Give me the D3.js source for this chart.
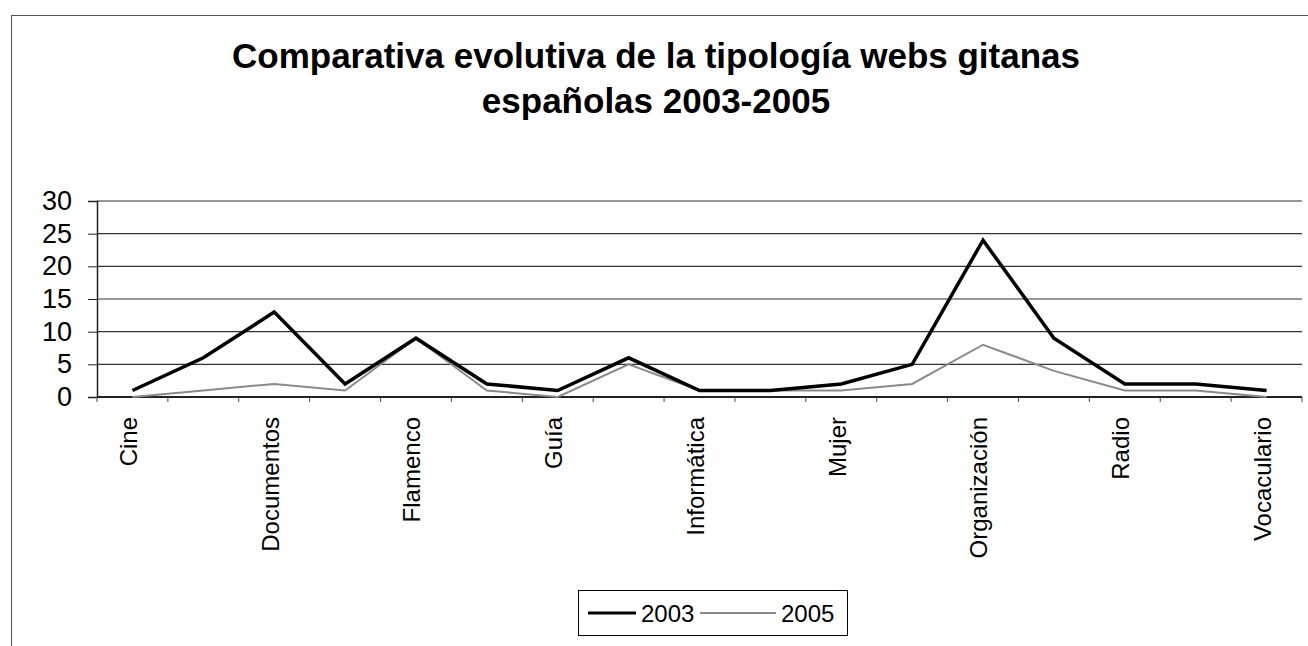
<!DOCTYPE html>
<html>
<head>
<meta charset="utf-8">
<script src="https://cdn.jsdelivr.net/npm/d3@7"></script>
<style>
  body { margin: 0; background: #fff; }
  svg { display: block; font-family: "Liberation Sans", Arial, sans-serif; }
</style>
</head>
<body>
<div id="chart"></div>
<script>
// categories (only every other one carries a visible label in the original)
const categories = ["Cine", "", "Documentos", "", "Flamenco", "", "Guía", "",
  "Informática", "", "Mujer", "", "Organización", "", "Radio", "", "Vocaculario"];
const years = ["2003", "2005"];
const values2003 = [1, 6, 13, 2, 9, 2, 1, 6, 1, 1, 2, 5, 24, 9, 2, 2, 1];
const values2005 = [0, 1, 2, 1, 9, 1, 0, 5, 1, 1, 1, 2, 8, 4, 1, 1, 0];
const yTicks = [0, 5, 10, 15, 20, 25, 30];

const width = 1308, height = 646;
const plot = { left: 97, right: 1302, top: 201, bottom: 397 };

const svg = d3.select("#chart").append("svg")
  .attr("width", width)
  .attr("height", height);

// outer frame
svg.append("rect")
  .attr("x", 11.5).attr("y", 15.5)
  .attr("width", 1320).attr("height", 700)
  .attr("fill", "none")
  .attr("stroke", "#555")
  .attr("stroke-width", 1);

// title
const title = svg.append("text")
  .attr("text-anchor", "middle")
  .attr("font-weight", "bold")
  .attr("font-size", 35)
  .attr("fill", "#000");
title.append("tspan").attr("x", 656).attr("y", 68)
  .text("Comparativa evolutiva de la tipología webs gitanas");
title.append("tspan").attr("x", 656).attr("y", 113)
  .text("españolas 2003-2005");

// scales
const x = d3.scaleBand()
  .domain(d3.range(categories.length))
  .range([plot.left, plot.right]);
const y = d3.scaleLinear()
  .domain([0, 30])
  .range([plot.bottom, plot.top]);

// gridlines
svg.append("g")
  .selectAll("line")
  .data(yTicks.filter(d => d > 0))
  .join("line")
  .attr("x1", plot.left).attr("x2", plot.right)
  .attr("y1", d => y(d)).attr("y2", d => y(d))
  .attr("stroke", "#333")
  .attr("stroke-width", 1.2);

// y axis
const yAxis = svg.append("g")
  .attr("transform", `translate(${plot.left},0)`)
  .call(d3.axisLeft(y).tickValues(yTicks).tickSize(9).tickPadding(16));
yAxis.select(".domain").attr("stroke", "#222").attr("stroke-width", 1.5);
yAxis.selectAll(".tick line").attr("stroke", "#222");
yAxis.selectAll(".tick text")
  .attr("font-size", 27)
  .attr("fill", "#000")
  .attr("font-family", "'Liberation Sans', Arial, sans-serif");

// x axis: ticks between categories
const xAxisG = svg.append("g")
  .attr("transform", `translate(0,${plot.bottom})`);
xAxisG.append("line")
  .attr("x1", plot.left).attr("x2", plot.right)
  .attr("stroke", "#222").attr("stroke-width", 1.8);
xAxisG.selectAll("line.tk")
  .data(d3.range(categories.length + 1))
  .join("line")
  .attr("class", "tk")
  .attr("x1", i => plot.left + i * x.bandwidth())
  .attr("x2", i => plot.left + i * x.bandwidth())
  .attr("y1", 0).attr("y2", 5)
  .attr("stroke", "#444");
xAxisG.selectAll("text")
  .data(categories.map((c, i) => ({ c, i })).filter(d => d.c !== ""))
  .join("text")
  .attr("transform", d => `translate(${x(d.i) + x.bandwidth() / 2 - 4},20) rotate(-90)`)
  .attr("text-anchor", "end")
  .attr("dy", "0.35em")
  .attr("font-size", 24)
  .attr("fill", "#000")
  .text(d => d.c);

// lines
const line = d3.line()
  .x((d, i) => x(i) + x.bandwidth() / 2)
  .y(d => y(d));

svg.append("path")
  .datum(values2005)
  .attr("d", line)
  .attr("fill", "none")
  .attr("stroke", "#8a8a8a")
  .attr("stroke-width", 2);

svg.append("path")
  .datum(values2003)
  .attr("d", line)
  .attr("fill", "none")
  .attr("stroke", "#000")
  .attr("stroke-width", 3.5)
  .attr("stroke-linejoin", "miter");

// legend
const legend = svg.append("g");
legend.append("rect")
  .attr("x", 578.5).attr("y", 590.5)
  .attr("width", 269).attr("height", 45)
  .attr("fill", "#fff")
  .attr("stroke", "#000");
const legendItems = [
  { name: years[0], x0: 588, len: 48, color: "#000", w: 3 },
  { name: years[1], x0: 700, len: 76, color: "#8a8a8a", w: 2 }
];
legendItems.forEach(it => {
  legend.append("line")
    .attr("x1", it.x0).attr("x2", it.x0 + it.len)
    .attr("y1", 613).attr("y2", 613)
    .attr("stroke", it.color).attr("stroke-width", it.w);
  legend.append("text")
    .attr("x", it.x0 + it.len + 5).attr("y", 622)
    .attr("font-size", 24)
    .attr("fill", "#000")
    .text(it.name);
});
</script>
</body>
</html>
